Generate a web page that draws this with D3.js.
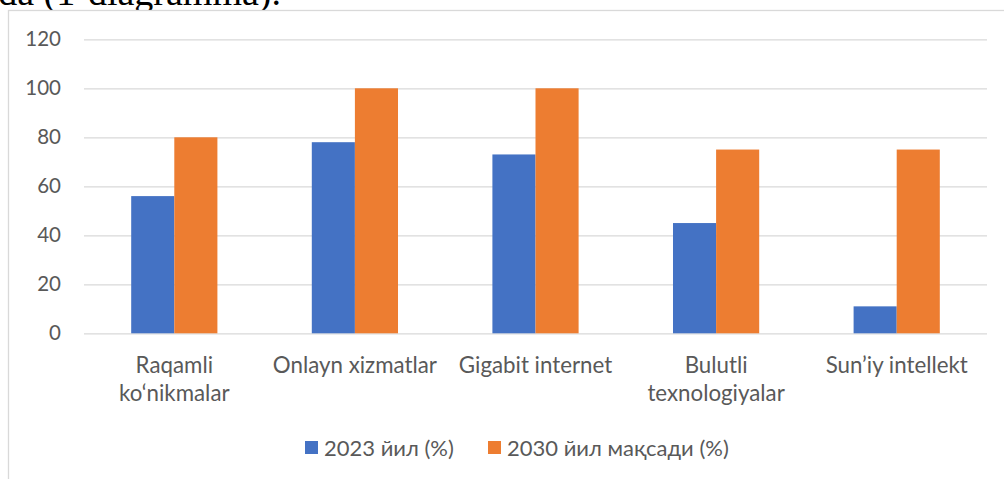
<!DOCTYPE html>
<html>
<head>
<meta charset="utf-8">
<script src="https://cdn.jsdelivr.net/npm/d3@7"></script>
<style>
  html, body { margin: 0; padding: 0; background: #fff; }
  svg { display: block; }
</style>
</head>
<body>
<svg id="chart" width="1004" height="479"></svg>
<script>
const categories = [["Raqamli", "ko\u2018nikmalar"], ["Onlayn xizmatlar"], ["Gigabit internet"], ["Bulutli", "texnologiyalar"], ["Sun\u2019iy intellekt"]];
const categoryKeys = ["Raqamli ko\u2018nikmalar", "Onlayn xizmatlar", "Gigabit internet", "Bulutli texnologiyalar", "Sun\u2019iy intellekt"];
const seriesNames = ["2023 йил (%)", "2030 йил мақсади (%)"];
const values2023 = [56, 78, 73, 45, 11];
const values2030 = [80, 100, 100, 75, 75];
const yTicks = [0, 20, 40, 60, 80, 100, 120];
const colors = ["#4472C4", "#ED7D31"];

(function () {
const svg = d3.select("#chart");
const font = "Lato, 'Open Sans', 'Noto Sans', sans-serif";
const textColor = "#595959";

// Surrounding document text (cut off at top, as in the source page)
svg.append("text")
  .attr("x", 281).attr("y", 5)
  .attr("text-anchor", "end")
  .attr("font-family", "'Liberation Serif', 'Times New Roman', serif")
  .attr("font-size", 38)
  .attr("fill", "#000")
  .text("da (1-diagramma).");

// Chart frame
svg.append("rect")
  .attr("x", 8.5).attr("y", 10.5)
  .attr("width", 1100).attr("height", 600)
  .attr("fill", "#fff")
  .attr("stroke", "#D9D9D9").attr("stroke-width", 1.3);

const pLeft = 84, pRight = 987, pTop = 39.3, pBottom = 333.3;

const x0 = d3.scaleBand().domain(categoryKeys).range([pLeft, pRight]).padding(0);
const step = x0.bandwidth();
const barW = step / (2 + 2.19);
const x1 = d3.scaleBand().domain(seriesNames)
  .range([step / 2 - barW, step / 2 + barW]).padding(0);
const y = d3.scaleLinear().domain([0, 120]).range([pBottom, pTop]);

// Gridlines via axis
const yAxis = d3.axisLeft(y).tickValues(yTicks).tickSize(-(pRight - pLeft)).tickPadding(23);
const gy = svg.append("g").attr("transform", `translate(${pLeft},0)`).call(yAxis);
gy.select(".domain").remove();
gy.selectAll(".tick line").attr("stroke", "#D9D9D9").attr("stroke-width", 1.3);
gy.selectAll(".tick text")
  .attr("font-family", font).attr("font-size", 20.5).attr("fill", textColor);

// Bars
const series = [values2023, values2030];
const groups = svg.append("g").selectAll("g")
  .data(categoryKeys)
  .join("g")
  .attr("transform", d => `translate(${x0(d)},0)`);

groups.selectAll("rect")
  .data((d, i) => seriesNames.map((s, j) => ({ s, v: series[j][i], j })))
  .join("rect")
  .attr("x", d => x1(d.s))
  .attr("width", x1.bandwidth())
  .attr("y", d => y(d.v))
  .attr("height", d => y(0) - y(d.v))
  .attr("fill", d => colors[d.j]);

// Category labels
const xAxis = d3.axisBottom(x0).tickSize(0).tickFormat(() => "");
const gx = svg.append("g").attr("transform", `translate(0,${pBottom})`).call(xAxis);
gx.select(".domain").remove();
gx.selectAll(".tick").each(function(d, i) {
  const t = d3.select(this).select("text")
    .attr("y", 0).attr("dy", null)
    .attr("font-family", font).attr("font-size", 22.3).attr("fill", textColor);
  categories[i].forEach((line, k) => {
    t.append("tspan").attr("x", 0).attr("y", 40 + k * 28).text(line);
  });
});

// Legend
const legendItems = [{ name: seriesNames[0], x: 305 }, { name: seriesNames[1], x: 488 }];
const lg = svg.append("g");
legendItems.forEach((it, i) => {
  lg.append("rect").attr("x", it.x).attr("y", 441).attr("width", 13).attr("height", 13).attr("fill", colors[i]);
  lg.append("text").attr("x", it.x + 19).attr("y", 456)
    .attr("font-family", font).attr("font-size", 22).attr("fill", textColor)
    .text(it.name);
});
})();
</script>
</body>
</html>
